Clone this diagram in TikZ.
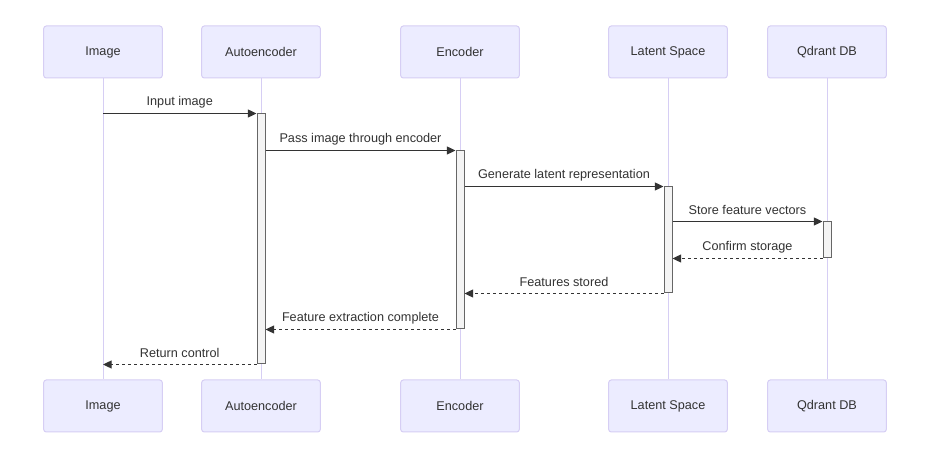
\documentclass[tikz,border=0pt]{standalone}
\usepackage{fontspec}
\setmainfont{Liberation Sans}
\usetikzlibrary{arrows.meta}
\definecolor{actorfill}{HTML}{ECECFF}
\definecolor{actorline}{HTML}{D6CEF4}
\definecolor{barfill}{HTML}{F4F4F4}
\definecolor{barline}{HTML}{666666}
\definecolor{msgline}{HTML}{333333}
\begin{document}
\begin{tikzpicture}[x=0.75pt,y=-0.75pt,
  actor/.style={draw=actorline, fill=actorfill, rounded corners=2pt, line width=0.75pt,
    minimum width=89pt, minimum height=39pt, text=msgline, font=\fontsize{9.5}{11}\selectfont},
  lifeline/.style={draw=actorline, line width=0.75pt},
  actbar/.style={draw=barline, fill=barfill, line width=0.75pt, minimum width=6pt, inner sep=0pt},
  msg/.style={draw=msgline, line width=0.9pt, -{Triangle[length=6.5pt,width=6pt]}},
  reply/.style={msg, dash pattern=on 2.25pt off 2.25pt},
  msglabel/.style={midway, yshift=8.6pt, text=msgline, font=\fontsize{9.5}{11}\selectfont}]
\useasboundingbox[fill=white] (0,0) rectangle (929,452);
%-------->actors top<--------------
\node[actor] (img-top) at (103,52) {Image}; % Image
\node[actor] (ae-top) at (261,52) {Autoencoder}; % Autoencoder
\node[actor] (enc-top) at (460,52) {Encoder}; % Encoder
\node[actor] (lat-top) at (668,52) {Latent Space}; % Latent Space
\node[actor] (qd-top) at (827,52) {Qdrant DB}; % Qdrant DB
%-------->actors bottom<--------------
\node[actor] (img-bot) at (103,406) {Image};
\node[actor] (ae-bot) at (261,406) {Autoencoder};
\node[actor] (enc-bot) at (460,406) {Encoder};
\node[actor] (lat-bot) at (668,406) {Latent Space};
\node[actor] (qd-bot) at (827,406) {Qdrant DB};
%------------->lifelines<------------------
\draw[lifeline] (img-top) -- (img-bot);
\draw[lifeline] (ae-top) -- (ae-bot);
\draw[lifeline] (enc-top) -- (enc-bot);
\draw[lifeline] (lat-top) -- (lat-bot);
\draw[lifeline] (qd-top) -- (qd-bot);
%------------->activation bars<------------------
\node[actbar, minimum height=187.5pt] (ae-bar) at (261,239) {};
\node[actbar, minimum height=133.5pt] (enc-bar) at (460,240) {};
\node[actbar, minimum height=79.5pt] (lat-bar) at (668,240) {};
\node[actbar, minimum height=27pt] (qd-bar) at (827,240) {};
%----------------> calls <------------------
\draw[msg] (img-top |- ae-bar.north) -- (ae-bar.north west) node[msglabel] {Input image};
\draw[msg] (ae-bar.east |- enc-bar.north) -- (enc-bar.north west) node[msglabel] {Pass image through encoder};
\draw[msg] (enc-bar.east |- lat-bar.north) -- (lat-bar.north west) node[msglabel] {Generate latent representation};
\draw[msg] (lat-bar.east |- qd-bar.north) -- (qd-bar.north west) node[msglabel] {Store feature vectors};
%----------------> replies <------------------
\draw[reply] (qd-bar.south west) -- (lat-bar.east |- qd-bar.south) node[msglabel] {Confirm storage};
\draw[reply] (lat-bar.south west) -- (enc-bar.east |- lat-bar.south) node[msglabel] {Features stored};
\draw[reply] (enc-bar.south west) -- (ae-bar.east |- enc-bar.south) node[msglabel] {Feature extraction complete};
\draw[reply] (ae-bar.south west) -- (img-top |- ae-bar.south) node[msglabel] {Return control};
\end{tikzpicture}
\end{document}
